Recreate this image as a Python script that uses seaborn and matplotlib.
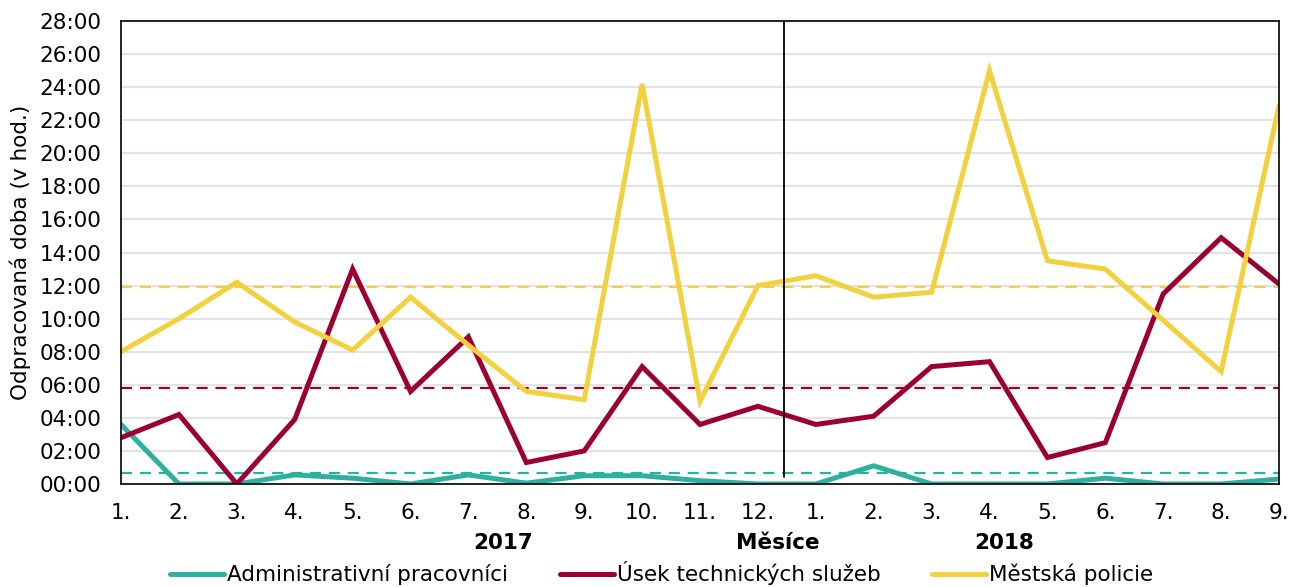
import pandas as pd
import matplotlib.pyplot as plt
import matplotlib.transforms as mtransforms
from matplotlib.ticker import FuncFormatter
import seaborn as sns

# months on the x axis: 1-12 of 2017, then 1-9 of 2018
months = ["1.", "2.", "3.", "4.", "5.", "6.", "7.", "8.", "9.", "10.", "11.", "12.",
          "1.", "2.", "3.", "4.", "5.", "6.", "7.", "8.", "9."]

# hours worked
admin = [3.6, 0.0, 0.0, 0.55, 0.35, 0.0, 0.55, 0.05, 0.5, 0.5, 0.2, 0.0,
         0.0, 1.1, 0.0, 0.0, 0.0, 0.35, 0.0, 0.0, 0.3]
technical = [2.8, 4.2, 0.0, 3.9, 13.0, 5.6, 8.9, 1.3, 2.0, 7.1, 3.6, 4.7,
             3.6, 4.1, 7.1, 7.4, 1.6, 2.5, 11.5, 14.9, 12.1]
police = [8.0, 10.0, 12.2, 9.8, 8.1, 11.3, 8.4, 5.6, 5.1, 24.2, 5.0, 12.0,
          12.6, 11.3, 11.6, 25.0, 13.5, 13.0, 9.9, 6.8, 22.9]

series_names = ["Administrativní pracovníci", "Úsek technických služeb", "Městská policie"]
series_colors = ["#2EB0A0", "#9B0030", "#F2D03E"]
averages = [0.65, 5.8, 11.9]

year_labels = ["2017", "Měsíce", "2018"]
year_label_pos = [6.6, 11.35, 15.25]

df = pd.DataFrame({
    "idx": list(range(len(months))) * 3,
    "hours": admin + technical + police,
    "series": [n for n in series_names for _ in months],
})

sns.set_theme(style="white")
plt.rcParams["font.family"] = ["DejaVu Sans"]
plt.rcParams["text.color"] = "black"
plt.rcParams["axes.labelcolor"] = "black"

fig = plt.figure(figsize=(12.9, 5.87), dpi=100)
ax = fig.add_axes([0.0938, 0.1755, 0.8977, 0.7885])

ax.yaxis.grid(True, color="#e3e3e3", linewidth=1.5)
ax.set_axisbelow(True)

sns.lineplot(data=df, x="idx", y="hours", hue="series", hue_order=series_names,
             palette=series_colors, linewidth=3.6, ax=ax, legend=True,
             solid_joinstyle="miter")

for avg, col in zip(averages, series_colors):
    ax.axhline(avg, color=col, linewidth=1.6, linestyle=(0, (5, 3.5)), zorder=1.5)

ax.axvline(11.45, ymin=0.015, ymax=1, color="black", linewidth=1.3)

ax.set_xlim(0, len(months) - 1)
ax.set_ylim(0, 28)
ax.set_yticks(range(0, 29, 2))
ax.yaxis.set_major_formatter(FuncFormatter(lambda v, p: f"{int(v):02d}:00"))
ax.set_xticks(range(len(months)))
ax.set_xticklabels(months)
ax.tick_params(axis="both", length=0, labelsize=15.5, colors="black")
ax.tick_params(axis="x", pad=14)
ax.tick_params(axis="y", pad=14)

for s in ax.spines.values():
    s.set_color("black")
    s.set_linewidth(1.2)

ax.set_xlabel("")
ax.set_ylabel("Odpracovaná doba (v hod.)", fontsize=15.5, labelpad=6)

trans = mtransforms.blended_transform_factory(ax.transData, ax.transAxes)
for lbl, pos in zip(year_labels, year_label_pos):
    ax.text(pos, -0.128, lbl, transform=trans, ha="center", va="center",
            fontsize=15.5, fontweight="bold")

handles, labels = ax.get_legend_handles_labels()
ax.get_legend().remove()
fig.legend(handles, labels, loc="lower center", bbox_to_anchor=(0.513, -0.03),
           ncol=3, frameon=False, fontsize=15.5, handlelength=2.5,
           handletextpad=0.15, columnspacing=2.4)

fig.savefig("out.png", dpi=100)
